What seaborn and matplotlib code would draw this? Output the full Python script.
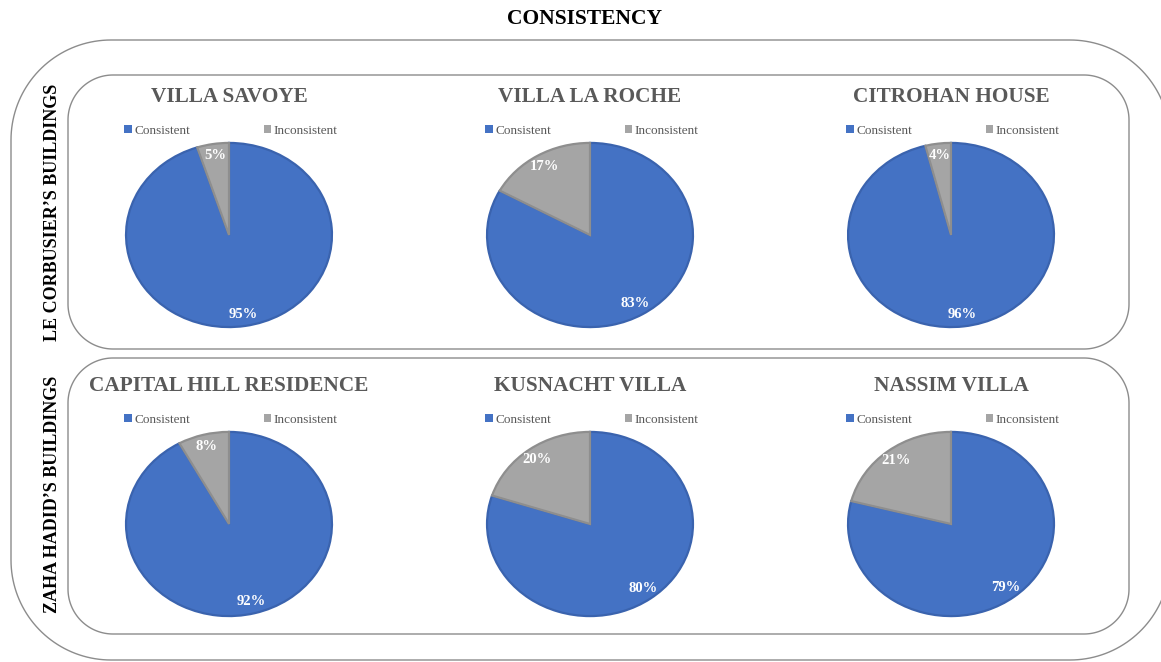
import matplotlib
matplotlib.use("Agg")
import numpy as np
import matplotlib.pyplot as plt
from matplotlib.patches import Patch, Polygon
import seaborn as sns

# ---- data -------------------------------------------------------------
buildings = ["VILLA SAVOYE", "VILLA LA ROCHE", "CITROHAN HOUSE",
             "CAPITAL HILL RESIDENCE", "KUSNACHT VILLA", "NASSIM VILLA"]
consistent = [95, 83, 96, 92, 80, 79]
inconsistent = [5, 17, 4, 8, 20, 21]
categories = ["Consistent", "Inconsistent"]
groups = ["LE CORBUSIER\u2019S BUILDINGS", "ZAHA HADID\u2019S BUILDINGS"]
title = "CONSISTENCY"

# ---- style ------------------------------------------------------------
sns.set_theme(style="white")
plt.rcParams["font.family"] = ["Liberation Serif", "DejaVu Serif"]
palette = sns.color_palette(["#4472C4", "#A5A5A5"])
edge_cols = ["#3A63AE", "#8E8E8E"]
text_grey = "#595959"
line_grey = "#8C8C8C"

W, H = 1161, 662
fig = plt.figure(figsize=(W / 100, H / 100), dpi=100)

# background layer in pixel units for the rounded frames
bg = fig.add_axes([0, 0, 1, 1], zorder=0)
bg.set_xlim(0, W)
bg.set_ylim(H, 0)
bg.axis("off")


def frame(x0, y0, x1, y1, r):
    """Rounded rectangle outline with circular corners (pixel units)."""
    t = np.linspace(0, np.pi / 2, 40)
    pts = []
    # top-right, bottom-right, bottom-left, top-left corners
    for cx, cy, a0 in [(x1 - r, y0 + r, -np.pi / 2), (x1 - r, y1 - r, 0.0),
                       (x0 + r, y1 - r, np.pi / 2), (x0 + r, y0 + r, np.pi)]:
        pts.extend(zip(cx + r * np.cos(a0 + t), cy + r * np.sin(a0 + t)))
    bg.add_patch(Polygon(pts, closed=True, fill=False,
                         edgecolor=line_grey, lw=1.0, joinstyle="round"))


frame(11, 40, 1170, 660, 100)
frame(68, 75, 1129, 349, 45)
frame(68, 358, 1129, 634, 45)

bg.text(585, 19, title, ha="center", va="center", fontsize=15.5,
        fontweight="bold", color="black")
bg.text(53, 212, groups[0], rotation=90, ha="center", va="center",
        fontsize=13, fontweight="bold", color="black")
bg.text(53, 494, groups[1], rotation=90, ha="center", va="center",
        fontsize=13, fontweight="bold", color="black")

# ---- pies -------------------------------------------------------------
col_cx = [229, 590, 951]
row_cy = [235, 524]
rx, ry = 104, 93
title_off = 138   # title centre, pixels above the pie centre
legend_off = 104  # legend centre, pixels above the pie centre

for i, name in enumerate(buildings):
    cx = col_cx[i % 3]
    cy = row_cy[i // 3]
    ax = fig.add_axes([(cx - rx) / W, 1 - (cy + ry) / H, 2 * rx / W, 2 * ry / H],
                      zorder=2)
    ax.patch.set_alpha(0)
    vals = [consistent[i], inconsistent[i]]
    wedges, _, autotexts = ax.pie(
        vals, colors=palette, startangle=90, counterclock=False,
        autopct=lambda p: f"{round(p)}%", pctdistance=0.87,
        wedgeprops=dict(linewidth=1.6),
        textprops=dict(color="white", fontweight="bold", fontsize=10.5))
    for w, ec in zip(wedges, edge_cols):
        w.set_edgecolor(ec)
    ax.set_aspect("auto")
    ax.set_xlim(-1.01, 1.01)
    ax.set_ylim(-1.01, 1.01)
    ax.set_title(name, fontsize=15.3, fontweight="bold", color=text_grey,
                 pad=0, y=0.5 + title_off / (2 * ry), va="center")
    handles = [Patch(facecolor=c, edgecolor="none") for c in palette]
    ax.legend(handles, categories, loc="center", ncol=2, frameon=False,
              bbox_to_anchor=(0.51, 0.5 + legend_off / (2 * ry)),
              fontsize=9.5, labelcolor=text_grey, handlelength=0.55,
              handleheight=0.55, handletextpad=0.2, columnspacing=5.6,
              borderaxespad=0, borderpad=0)

fig.savefig("out.png", dpi=100)
